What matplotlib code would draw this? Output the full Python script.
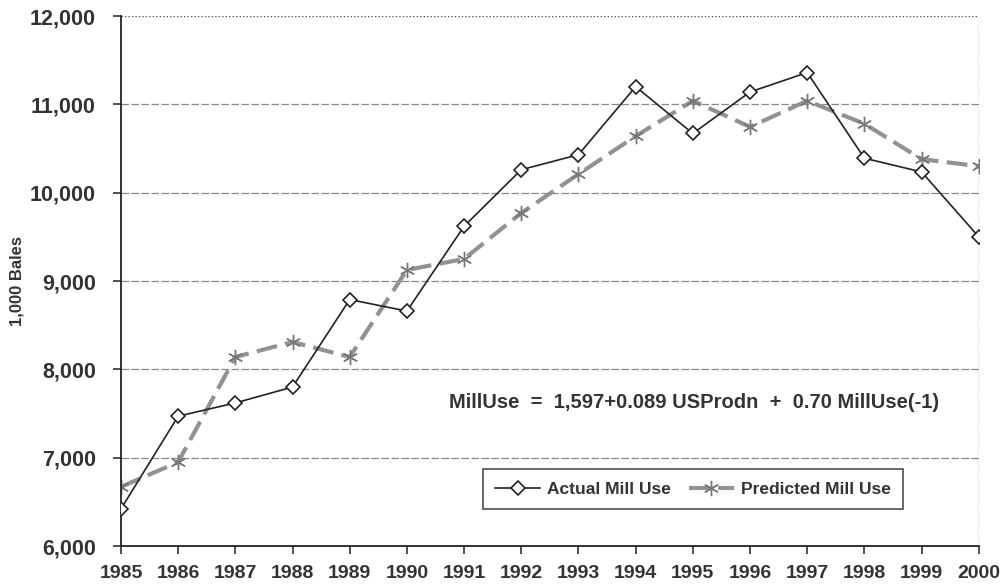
import matplotlib
matplotlib.use("Agg")
import matplotlib.pyplot as plt
from matplotlib.ticker import FuncFormatter

years = list(range(1985, 2001))
actual = [6420, 7470, 7620, 7800, 8790, 8660, 9620, 10260, 10430, 11200,
          10670, 11140, 11360, 10390, 10235, 9500]
predicted = [6670, 6950, 8140, 8310, 8140, 9125, 9250, 9770, 10210, 10640,
             11040, 10745, 11040, 10780, 10380, 10300]
yticks = [6000, 7000, 8000, 9000, 10000, 11000, 12000]

plt.rcParams['font.family'] = ['Liberation Sans', 'DejaVu Sans']
plt.rcParams['font.weight'] = 'bold'

fig = plt.figure(figsize=(10.08, 5.84), dpi=100)
ax = fig.add_axes([0.120, 0.065, 0.851, 0.9076])

for v in yticks[1:-1]:
    ax.axhline(v, color='#888888', lw=0.9, ls=(0, (6, 2)), zorder=1)
ax.axhline(12000, color='#555555', lw=1.0, ls=(0, (1, 1.5)), zorder=1)
ax.axvline(2000, color='#555555', lw=1.0, ls=(0, (1, 1.5)), zorder=1)

ax.plot(years, predicted, color='#929292', lw=3, ls=(0, (5, 2)),
        marker=(6, 2, 0), ms=11, mec='#777777', mew=1.0,
        label='Predicted Mill Use', zorder=2)
ax.plot(years, actual, color='#222222', lw=1.2, marker='D', ms=7,
        mfc='white', mec='#222222', mew=1.2, label='Actual Mill Use', zorder=3)

ax.set_xlim(1985, 2000)
ax.set_ylim(6000, 12000)
ax.set_xticks(years)
ax.set_yticks(yticks)
ax.yaxis.set_major_formatter(FuncFormatter(lambda v, p: f"{int(v):,}"))
for s in ['top', 'right']:
    ax.spines[s].set_visible(False)
for s in ['left', 'bottom']:
    ax.spines[s].set_color('#222222')
    ax.spines[s].set_linewidth(1.3)
ax.tick_params(direction='out', length=6, width=1.2, colors='#333333')
ax.tick_params(axis='x', pad=8, labelsize=14)
ax.tick_params(axis='y', pad=12, labelsize=15.5)
for lab in ax.get_xticklabels() + ax.get_yticklabels():
    lab.set_fontweight('bold')

ax.set_ylabel('1,000 Bales', fontsize=12, fontweight='bold', color='#333333',
              labelpad=4)

ax.text(1995.03, 7630, 'MillUse  =  1,597+0.089 USProdn  +  0.70 MillUse(-1)',
        ha='center', va='center', fontsize=14.5, fontweight='bold', color='#333333')

h, l = ax.get_legend_handles_labels()
leg = ax.legend([h[1], h[0]], [l[1], l[0]], loc='center',
                bbox_to_anchor=(0.6667, 0.1075), ncol=2, frameon=True,
                fancybox=False, edgecolor='#222222', fontsize=12.5,
                handlelength=2.6, columnspacing=1.0, handletextpad=0.4,
                borderpad=0.7)
leg.get_frame().set_linewidth(1.2)
for t in leg.get_texts():
    t.set_fontweight('bold')
    t.set_color('#333333')

fig.savefig('out.png', dpi=100)
